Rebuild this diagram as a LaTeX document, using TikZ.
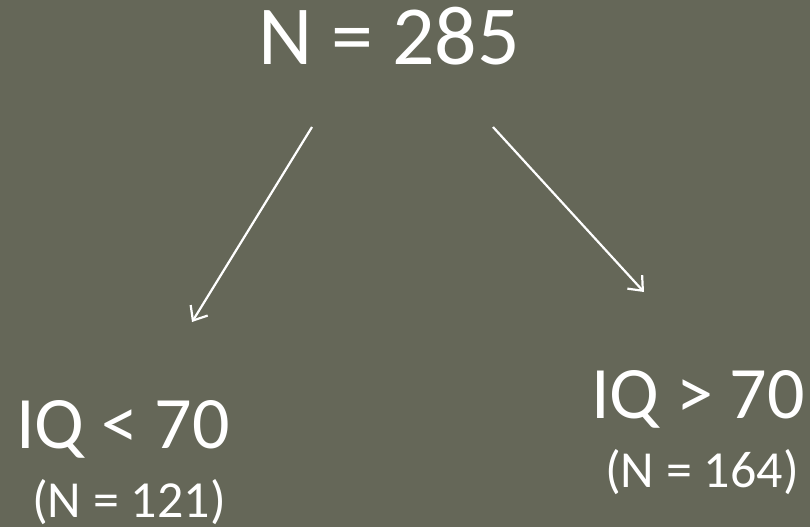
\documentclass[tikz,border=0pt]{standalone}
\usepackage{fontspec}
\setmainfont{Carlito}
\usetikzlibrary{arrows.meta}
\definecolor{bgolive}{RGB}{101,103,88}
\tikzset{
  lbl/.style={text=white, inner sep=0pt, anchor=base west},
  big/.style={lbl, font=\fontsize{84}{90}\selectfont},
  mid/.style={lbl, font=\fontsize{74}{80}\selectfont},
  small/.style={lbl, font=\fontsize{52}{56}\selectfont},
  link/.style={white, line width=2.2pt, -{Straight Barb[length=12pt, width=20pt, line width=2.2pt]}}
}
\begin{document}
\begin{tikzpicture}[x=1pt, y=-1pt]
  \fill[bgolive] (0,0) rectangle (810,527);
  \useasboundingbox (0,0) rectangle (810,527);
  \node[big] (root) at (258,64) {N = 285};
  \node[mid] (low) at (16,448) {IQ < 70};
  \node[small] (lown) at (32,517) {(N = 121)};
  \node[mid] (high) at (591,418) {IQ > 70};
  \node[small] (highn) at (605,487) {(N = 164)};
  \coordinate (ls) at (312,127);
  \coordinate (le) at (192,322);
  \coordinate (rs) at (493,127);
  \coordinate (re) at (644,292);
  \draw[link] (ls) -- (le);
  \draw[link] (rs) -- (re);
\end{tikzpicture}
\end{document}
